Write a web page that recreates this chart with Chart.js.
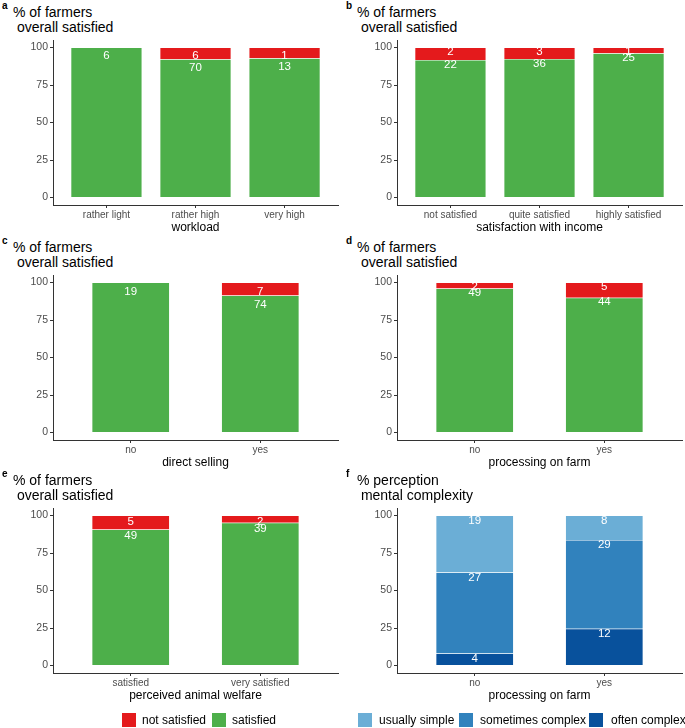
<!DOCTYPE html>
<html>
<head>
<meta charset="utf-8">
<script src="https://cdn.jsdelivr.net/npm/chart.js@4.4.1/dist/chart.umd.min.js"></script>
<style>
  body { margin: 0; background: #fff; width: 685px; height: 728px; overflow: hidden; position: relative; font-family: "Liberation Sans", Arial, sans-serif; }
  canvas { position: absolute; }
  .tag { position: absolute; font-weight: bold; font-size: 10px; line-height: 10px; color: #000; }
  .title { position: absolute; font-size: 14px; line-height: 15px; color: #000; white-space: pre; }
  .legend { position: absolute; top: 713px; font-size: 12px; line-height: 14px; color: #000; }
  .legend span.box { position: absolute; top: 0; width: 14px; height: 14px; }
  .legend span.txt { position: absolute; top: 0; white-space: nowrap; }
</style>
</head>
<body>
<script>
const RED = '#E41A1C';
const GREEN = '#4DAF4A';
const LIGHT_BLUE = '#6BAED6';
const MID_BLUE = '#3182BD';
const DARK_BLUE = '#08519C';

// counts per category (labels on the bars); bar heights are the shares in %
const workloadCats = ['rather light', 'rather high', 'very high'];
const workloadSat = [6, 70, 13];
const workloadNotSat = [0, 6, 1];

const incomeCats = ['not satisfied', 'quite satisfied', 'highly satisfied'];
const incomeSat = [22, 36, 25];
const incomeNotSat = [2, 3, 1];

const sellingCats = ['no', 'yes'];
const sellingSat = [19, 74];
const sellingNotSat = [0, 7];

const processingCats = ['no', 'yes'];
const processingSat = [49, 44];
const processingNotSat = [2, 5];

const welfareCats = ['satisfied', 'very satisfied'];
const welfareSat = [49, 39];
const welfareNotSat = [5, 2];

const complexityCats = ['no', 'yes'];
const oftenComplex = [4, 12];
const sometimesComplex = [27, 29];
const usuallySimple = [19, 8];

const yTicks = [0, 25, 50, 75, 100];

const FONT = '"Liberation Sans", Arial, sans-serif';

function satSeries(sat, notSat) {
  return [
    { label: 'satisfied', counts: sat, color: GREEN },
    { label: 'not satisfied', counts: notSat, color: RED }
  ];
}

const panels = [
  { tag: 'a', col: 0, row: 0, title: '% of farmers\n overall satisfied', cats: workloadCats, xTitle: 'workload', width: 0.8, offset: 8.5, series: satSeries(workloadSat, workloadNotSat) },
  { tag: 'b', col: 1, row: 0, title: '% of farmers\n overall satisfied', cats: incomeCats, xTitle: 'satisfaction with income', width: 0.8, offset: 4.5, series: satSeries(incomeSat, incomeNotSat) },
  { tag: 'c', col: 0, row: 1, title: '% of farmers\n overall satisfied', cats: sellingCats, xTitle: 'direct selling', width: 0.6, offset: 9, series: satSeries(sellingSat, sellingNotSat) },
  { tag: 'd', col: 1, row: 1, title: '% of farmers\n overall satisfied', cats: processingCats, xTitle: 'processing on farm', width: 0.6, offset: 4.5, series: satSeries(processingSat, processingNotSat) },
  { tag: 'e', col: 0, row: 2, title: '% of farmers\n overall satisfied', cats: welfareCats, xTitle: 'perceived animal welfare', width: 0.6, offset: 6.5, series: satSeries(welfareSat, welfareNotSat) },
  { tag: 'f', col: 1, row: 2, title: '% perception\n mental complexity', cats: complexityCats, xTitle: 'processing on farm', width: 0.6, offset: 5, series: [
    { label: 'often complex', counts: oftenComplex, color: DARK_BLUE },
    { label: 'sometimes complex', counts: sometimesComplex, color: MID_BLUE },
    { label: 'usually simple', counts: usuallySimple, color: LIGHT_BLUE }
  ] }
];

const colX = [0, 344];
const rowY = [0, 235, 468];

// white count labels just under the top of each segment
const countLabels = {
  id: 'countLabels',
  afterDatasetsDraw(chart, args, opts) {
    const ctx = chart.ctx;
    ctx.save();
    ctx.fillStyle = '#ffffff';
    ctx.font = '11.5px ' + FONT;
    ctx.textAlign = 'center';
    ctx.textBaseline = 'middle';
    chart.data.datasets.forEach((ds, di) => {
      chart.getDatasetMeta(di).data.forEach((bar, i) => {
        const n = ds.counts[i];
        if (!n) return;
        ctx.fillText(String(n), bar.x, bar.y + opts.offset);
      });
    });
    ctx.restore();
  }
};

panels.forEach(p => {
  const left = colX[p.col];
  const top = rowY[p.row];

  const tag = document.createElement('div');
  tag.className = 'tag';
  tag.style.left = (left + 2) + 'px';
  tag.style.top = (top + 1) + 'px';
  tag.textContent = p.tag;
  document.body.appendChild(tag);

  const title = document.createElement('div');
  title.className = 'title';
  title.style.left = (left + 13) + 'px';
  title.style.top = (top + 5) + 'px';
  title.textContent = p.title;
  document.body.appendChild(title);

  const canvas = document.createElement('canvas');
  canvas.width = 341;
  canvas.height = 235;
  canvas.style.left = left + 'px';
  canvas.style.top = top + 'px';
  document.body.appendChild(canvas);

  const totals = p.cats.map((c, i) => p.series.reduce((s, ser) => s + ser.counts[i], 0));
  const n = p.cats.length;

  new Chart(canvas, {
    type: 'bar',
    data: {
      datasets: p.series.map(ser => ({
        label: ser.label,
        counts: ser.counts,
        data: ser.counts.map((v, i) => ({ x: i + 1, y: v / totals[i] * 100 })),
        backgroundColor: ser.color,
        borderColor: 'rgba(255,255,255,0.25)',
        borderWidth: 0.5,
        categoryPercentage: p.width,
        barPercentage: 1
      }))
    },
    options: {
      responsive: false,
      animation: false,
      devicePixelRatio: 1,
      layout: { padding: { top: 40, right: 3, left: 0, bottom: 0 } },
      plugins: {
        legend: { display: false },
        tooltip: { enabled: false },
        countLabels: { offset: p.offset }
      },
      scales: {
        x: {
          type: 'linear',
          stacked: true,
          offset: false,
          min: 0.4,
          max: n + 0.6,
          afterBuildTicks: s => { s.ticks = p.cats.map((c, i) => ({ value: i + 1 })); },
          afterFit: s => { s.height = 30; },
          ticks: {
            color: '#4d4d4d',
            font: { family: FONT, size: 10 },
            padding: 1,
            maxRotation: 0,
            autoSkip: false,
            callback: v => p.cats[v - 1]
          },
          grid: { offset: false, drawOnChartArea: false, drawTicks: true, tickLength: 3, tickColor: '#333' },
          border: { display: true, color: '#333', width: 1 },
          title: { display: true, text: p.xTitle, color: '#000', font: { family: FONT, size: 12 }, padding: { top: 0, bottom: 0 } }
        },
        y: {
          stacked: true,
          min: -5,
          max: 105,
          afterBuildTicks: s => { s.ticks = yTicks.map(v => ({ value: v })); },
          afterFit: s => { s.width = 53; },
          ticks: { color: '#4d4d4d', font: { family: FONT, size: 10.5 }, padding: 2 },
          grid: { drawOnChartArea: false, drawTicks: true, tickLength: 3, tickColor: '#333' },
          border: { display: true, color: '#333', width: 1 }
        }
      }
    },
    plugins: [countLabels]
  });
});

// legends drawn under the bottom row
const legends = [
  { items: [['not satisfied', RED, 122, 142], ['satisfied', GREEN, 212, 232]] },
  { items: [['usually simple', LIGHT_BLUE, 358, 379], ['sometimes complex', MID_BLUE, 459, 480], ['often complex', DARK_BLUE, 589, 611]] }
];
legends.forEach(lg => {
  const div = document.createElement('div');
  div.className = 'legend';
  div.style.left = '0px';
  lg.items.forEach(([txt, color, bx, tx]) => {
    const b = document.createElement('span');
    b.className = 'box';
    b.style.left = bx + 'px';
    b.style.background = color;
    div.appendChild(b);
    const t = document.createElement('span');
    t.className = 'txt';
    t.style.left = tx + 'px';
    t.textContent = txt;
    div.appendChild(t);
  });
  document.body.appendChild(div);
});
</script>
</body>
</html>
